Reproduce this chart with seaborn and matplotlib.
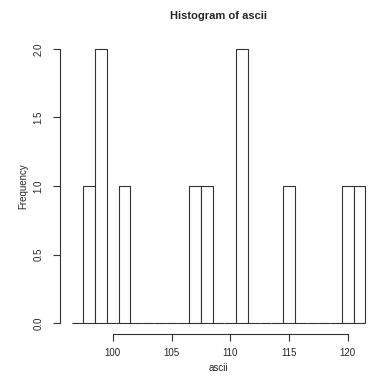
import numpy as np
import pandas as pd
import matplotlib
matplotlib.use('Agg')
import matplotlib.pyplot as plt
import seaborn as sns

# 데이터 (ascii 코드 값)
ascii_vals = [98, 99, 99, 101, 107, 108, 111, 111, 115, 120, 121]
bin_edges = np.arange(96.5, 122.0, 1.0)
x_ticks = [100, 105, 110, 115, 120]
y_ticks = [0.0, 0.5, 1.0, 1.5, 2.0]

df = pd.DataFrame({'ascii': ascii_vals})

sns.set_style('white')
plt.rcParams['font.family'] = ['Liberation Sans', 'DejaVu Sans']

W, H = 369, 379
fig = plt.figure(figsize=(W / 100, H / 100), dpi=100)
# plot region in pixels: left 60, right 377, top 38, bottom 334
ax = fig.add_axes([60 / W, 1 - 334 / H, (377 - 60) / W, (334 - 38) / H])

sns.histplot(data=df, x='ascii', bins=bin_edges, stat='count',
             color='white', edgecolor='#333333', linewidth=0.8, alpha=1, ax=ax)

ax.set_xlim(95.5, 122.5)
ax.set_ylim(-0.08, 2.08)

for s in ['top', 'right']:
    ax.spines[s].set_visible(False)
ax.spines['left'].set_bounds(0, 2)
ax.spines['bottom'].set_bounds(100, 120)
for s in ['left', 'bottom']:
    ax.spines[s].set_linewidth(0.8)
    ax.spines[s].set_color('#333333')

ax.set_xticks(x_ticks)
ax.set_xticklabels([str(t) for t in x_ticks])
ax.set_yticks(y_ticks)
ax.set_yticklabels([f'{t:.1f}' for t in y_ticks], rotation=90, va='center')
ax.tick_params(axis='x', direction='out', length=5, width=0.8, color='#333333',
               labelsize=7, pad=5, bottom=True)
ax.tick_params(axis='y', direction='out', length=5, width=0.8, color='#333333',
               labelsize=7, pad=7, left=True)

ax.set_xlabel('ascii', fontsize=7, labelpad=4)
ax.set_ylabel('Frequency', fontsize=7, labelpad=4)
ax.set_title('Histogram of ascii', fontsize=8, fontweight='bold', pad=14)

fig.savefig('out.png', dpi=100)
